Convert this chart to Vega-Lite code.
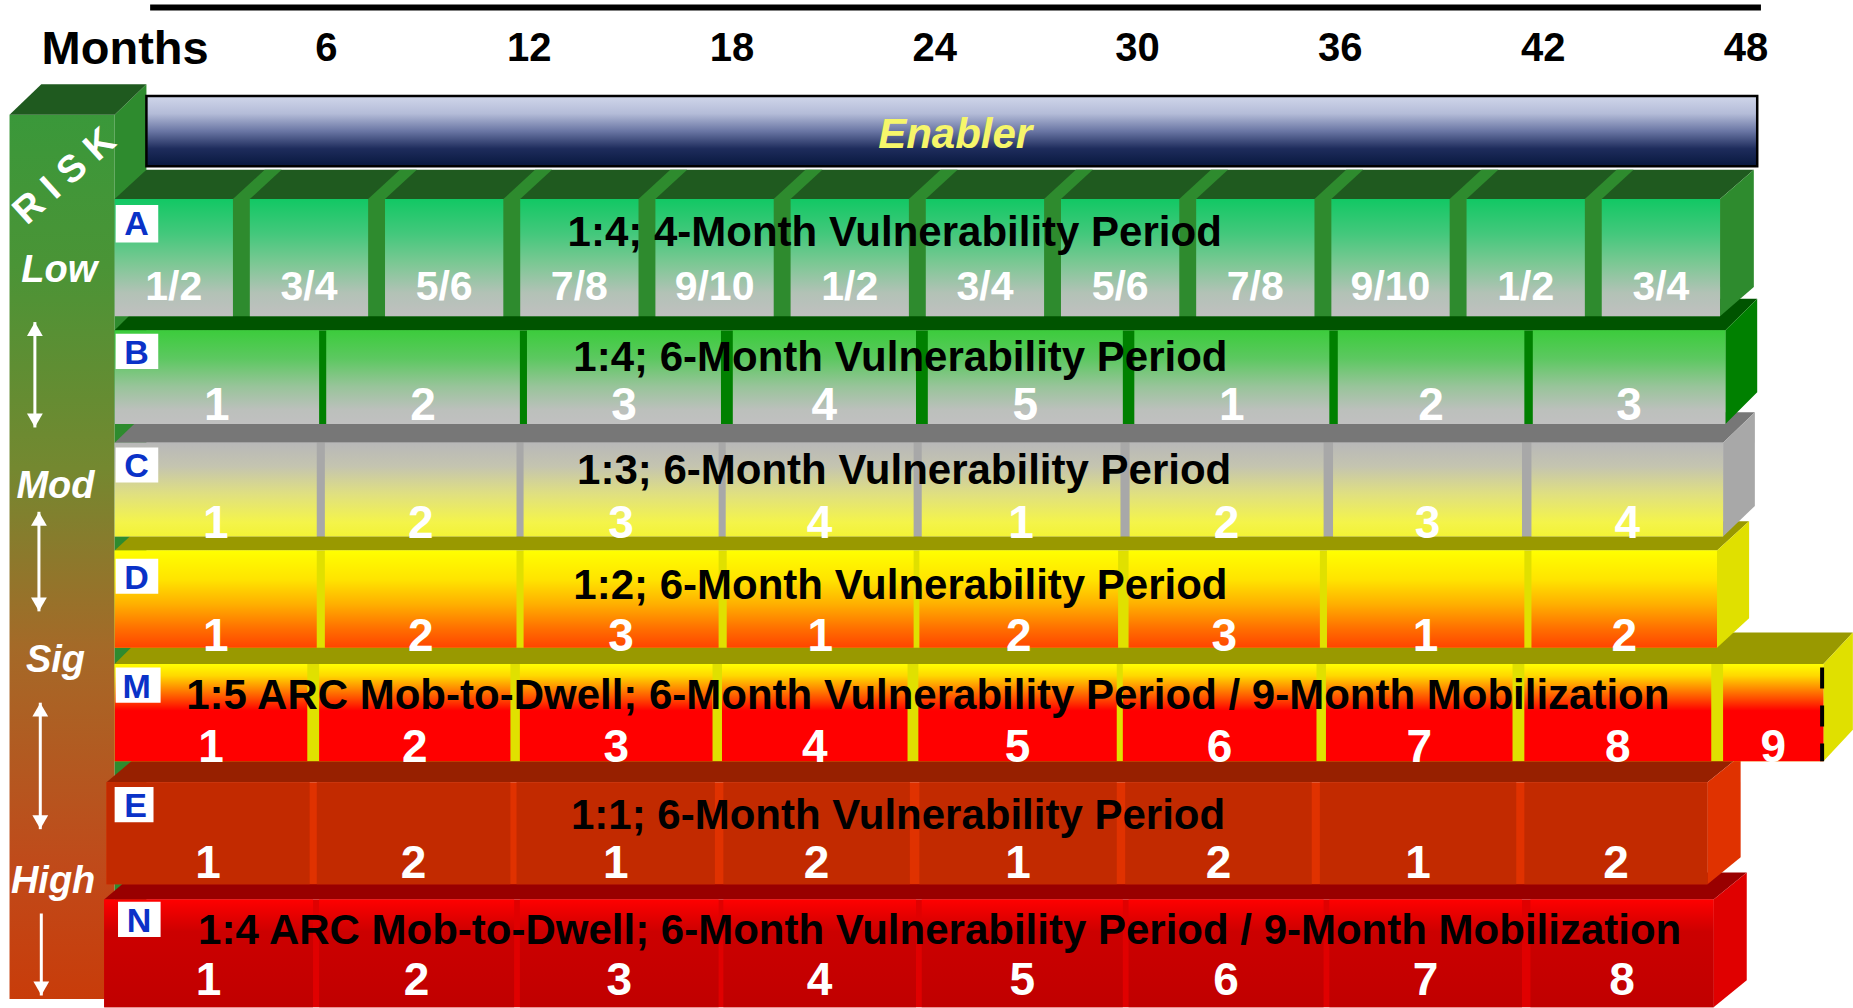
{
"$schema":"https://vega.github.io/schema/vega-lite/v6.json",
"width":1853,"height":1008,
"autosize":{"type":"fit","contains":"padding"},
"padding":0,
"background":"white",
"config":{"view":{"stroke":null},"text":{"font":"Liberation Sans","fontWeight":"bold"}},
"datasets":{
"cells":[
{"row":"A","start":0,"end":3.5,"label":"1/2"},{"row":"A","start":4,"end":7.5,"label":"3/4"},{"row":"A","start":8,"end":11.5,"label":"5/6"},{"row":"A","start":12,"end":15.5,"label":"7/8"},{"row":"A","start":16,"end":19.5,"label":"9/10"},{"row":"A","start":20,"end":23.5,"label":"1/2"},{"row":"A","start":24,"end":27.5,"label":"3/4"},{"row":"A","start":28,"end":31.5,"label":"5/6"},{"row":"A","start":32,"end":35.5,"label":"7/8"},{"row":"A","start":36,"end":39.5,"label":"9/10"},{"row":"A","start":40,"end":43.5,"label":"1/2"},{"row":"A","start":44,"end":47.5,"label":"3/4"},
{"row":"B","start":0,"end":6.05,"label":"1"},{"row":"B","start":6.26,"end":11.99,"label":"2"},{"row":"B","start":12.2,"end":17.94,"label":"3"},{"row":"B","start":18.29,"end":23.71,"label":"4"},{"row":"B","start":24.06,"end":29.83,"label":"5"},{"row":"B","start":30.17,"end":35.94,"label":"1"},{"row":"B","start":36.19,"end":41.71,"label":"2"},{"row":"B","start":41.96,"end":47.66,"label":"3"},
{"row":"C","start":0,"end":5.98,"label":"1"},{"row":"C","start":6.22,"end":11.89,"label":"2"},{"row":"C","start":12.1,"end":17.87,"label":"3"},{"row":"C","start":18.08,"end":23.64,"label":"4"},{"row":"C","start":23.88,"end":29.76,"label":"1"},{"row":"C","start":30.03,"end":35.77,"label":"2"},{"row":"C","start":36.05,"end":41.64,"label":"3"},{"row":"C","start":41.92,"end":47.59,"label":"4"},
{"row":"D","start":0,"end":5.98,"label":"1"},{"row":"D","start":6.22,"end":11.89,"label":"2"},{"row":"D","start":12.1,"end":17.87,"label":"3"},{"row":"D","start":18.11,"end":23.64,"label":"1"},{"row":"D","start":23.81,"end":29.69,"label":"2"},{"row":"D","start":30.0,"end":35.66,"label":"3"},{"row":"D","start":35.87,"end":41.71,"label":"1"},{"row":"D","start":41.92,"end":47.41,"label":"2"},
{"row":"M","start":0,"end":5.7,"label":"1"},{"row":"M","start":6.05,"end":11.71,"label":"2"},{"row":"M","start":11.99,"end":17.69,"label":"3"},{"row":"M","start":17.97,"end":23.46,"label":"4"},{"row":"M","start":23.78,"end":29.65,"label":"5"},{"row":"M","start":29.83,"end":35.56,"label":"6"},{"row":"M","start":35.84,"end":41.36,"label":"7"},{"row":"M","start":41.71,"end":47.24,"label":"8"},{"row":"M","start":47.59,"end":50.56,"label":"9"},
{"row":"E","start":-0.24,"end":5.77,"label":"1"},{"row":"E","start":5.98,"end":11.71,"label":"2"},{"row":"E","start":11.89,"end":17.76,"label":"1"},{"row":"E","start":18.01,"end":23.53,"label":"2"},{"row":"E","start":23.81,"end":29.65,"label":"1"},{"row":"E","start":29.9,"end":35.42,"label":"2"},{"row":"E","start":35.66,"end":41.47,"label":"1"},{"row":"E","start":41.71,"end":47.13,"label":"2"},
{"row":"N","start":-0.31,"end":5.87,"label":"1"},{"row":"N","start":6.05,"end":11.82,"label":"2"},{"row":"N","start":11.99,"end":17.87,"label":"3"},{"row":"N","start":18.01,"end":23.71,"label":"4"},{"row":"N","start":23.88,"end":29.83,"label":"5"},{"row":"N","start":30.0,"end":35.77,"label":"6"},{"row":"N","start":35.94,"end":41.64,"label":"7"},{"row":"N","start":41.89,"end":47.31,"label":"8"}
],
"rows":[
{"row":"A","top":1.70,"bottom":2.70,"labelY":2.46,"title":"1:4; 4-Month Vulnerability Period","titleX":23.08,"titleY":1.99,"boxTop":1.75,"boxBottom":2.07,"boxX0":0.03,"boxX1":1.29},
{"row":"B","top":2.82,"bottom":3.62,"labelY":3.47,"title":"1:4; 6-Month Vulnerability Period","titleX":23.25,"titleY":3.06,"boxTop":2.85,"boxBottom":3.15,"boxX0":0.03,"boxX1":1.29},
{"row":"C","top":3.78,"bottom":4.58,"labelY":4.47,"title":"1:3; 6-Month Vulnerability Period","titleX":23.36,"titleY":4.02,"boxTop":3.82,"boxBottom":4.12,"boxX0":0.03,"boxX1":1.29},
{"row":"D","top":4.70,"bottom":5.53,"labelY":5.44,"title":"1:2; 6-Month Vulnerability Period","titleX":23.25,"titleY":5.00,"boxTop":4.77,"boxBottom":5.07,"boxX0":0.03,"boxX1":1.29},
{"row":"M","top":5.67,"bottom":6.50,"labelY":6.39,"title":"1:5 ARC Mob-to-Dwell; 6-Month Vulnerability Period / 9-Month Mobilization","titleX":24.06,"titleY":5.94,"boxTop":5.70,"boxBottom":6.00,"boxX0":0.03,"boxX1":1.36},
{"row":"E","top":6.68,"bottom":7.55,"labelY":7.38,"title":"1:1; 6-Month Vulnerability Period","titleX":23.18,"titleY":6.97,"boxTop":6.72,"boxBottom":7.02,"boxX0":0.0,"boxX1":1.15},
{"row":"N","top":7.68,"bottom":8.60,"labelY":8.38,"title":"1:4 ARC Mob-to-Dwell; 6-Month Vulnerability Period / 9-Month Mobilization","titleX":24.41,"titleY":7.95,"boxTop":7.70,"boxBottom":8.00,"boxX0":0.1,"boxX1":1.36}
],
"tops":[
{"face":"col-top","tone":"col-top","level":0.72,"left":-2.17,"right":0.94},{"face":"col-top","tone":"col-top","level":0.98,"left":-3.11,"right":0},
{"face":"A-top","tone":"A-top","level":1.45,"left":0.94,"right":48.5},{"face":"A-top","tone":"A-top","level":1.70,"left":0,"right":47.5},
{"face":"A-g1","tone":"A","level":1.45,"left":4.44,"right":4.94},{"face":"A-g1","tone":"A","level":1.70,"left":3.5,"right":4},
{"face":"A-g2","tone":"A","level":1.45,"left":8.44,"right":8.94},{"face":"A-g2","tone":"A","level":1.70,"left":7.5,"right":8},
{"face":"A-g3","tone":"A","level":1.45,"left":12.44,"right":12.94},{"face":"A-g3","tone":"A","level":1.70,"left":11.5,"right":12},
{"face":"A-g4","tone":"A","level":1.45,"left":16.44,"right":16.94},{"face":"A-g4","tone":"A","level":1.70,"left":15.5,"right":16},
{"face":"A-g5","tone":"A","level":1.45,"left":20.44,"right":20.94},{"face":"A-g5","tone":"A","level":1.70,"left":19.5,"right":20},
{"face":"A-g6","tone":"A","level":1.45,"left":24.44,"right":24.94},{"face":"A-g6","tone":"A","level":1.70,"left":23.5,"right":24},
{"face":"A-g7","tone":"A","level":1.45,"left":28.44,"right":28.94},{"face":"A-g7","tone":"A","level":1.70,"left":27.5,"right":28},
{"face":"A-g8","tone":"A","level":1.45,"left":32.44,"right":32.94},{"face":"A-g8","tone":"A","level":1.70,"left":31.5,"right":32},
{"face":"A-g9","tone":"A","level":1.45,"left":36.44,"right":36.94},{"face":"A-g9","tone":"A","level":1.70,"left":35.5,"right":36},
{"face":"A-g10","tone":"A","level":1.45,"left":40.44,"right":40.94},{"face":"A-g10","tone":"A","level":1.70,"left":39.5,"right":40},
{"face":"A-g11","tone":"A","level":1.45,"left":44.44,"right":44.94},{"face":"A-g11","tone":"A","level":1.70,"left":43.5,"right":44},
{"face":"B-top","tone":"B-top","level":2.55,"left":0.94,"right":48.6},{"face":"B-top","tone":"B-top","level":2.82,"left":0,"right":47.66},
{"face":"C-top","tone":"C-top","level":3.52,"left":0.94,"right":48.53},{"face":"C-top","tone":"C-top","level":3.78,"left":0,"right":47.59},
{"face":"D-top","tone":"D-top","level":4.45,"left":0.94,"right":48.36},{"face":"D-top","tone":"D-top","level":4.70,"left":0,"right":47.41},
{"face":"M-top","tone":"M-top","level":5.40,"left":0.94,"right":51.43},{"face":"M-top","tone":"M-top","level":5.67,"left":0,"right":50.56},
{"face":"E-top","tone":"E-top","level":6.45,"left":0.70,"right":48.11},{"face":"E-top","tone":"E-top","level":6.68,"left":-0.24,"right":47.13},
{"face":"N-top","tone":"N-top","level":7.45,"left":0.63,"right":48.29},{"face":"N-top","tone":"N-top","level":7.68,"left":-0.31,"right":47.31}
],
"sides":[
{"face":"col-side","tone":"col-side","month":0,"upper":0.98,"lower":8.53},{"face":"col-side","tone":"col-side","month":0.94,"upper":0.72,"lower":8.27},
{"face":"A-side","tone":"A","month":47.5,"upper":1.70,"lower":2.70},{"face":"A-side","tone":"A","month":48.5,"upper":1.45,"lower":2.45},
{"face":"B-side","tone":"B","month":47.66,"upper":2.82,"lower":3.62},{"face":"B-side","tone":"B","month":48.6,"upper":2.55,"lower":3.35},
{"face":"C-side","tone":"C","month":47.59,"upper":3.78,"lower":4.58},{"face":"C-side","tone":"C","month":48.53,"upper":3.52,"lower":4.32},
{"face":"D-side","tone":"D","month":47.41,"upper":4.70,"lower":5.53},{"face":"D-side","tone":"D","month":48.36,"upper":4.45,"lower":5.28},
{"face":"M-side","tone":"M","month":50.56,"upper":5.67,"lower":6.50},{"face":"M-side","tone":"M","month":51.43,"upper":5.40,"lower":6.23},
{"face":"E-side","tone":"E","month":47.13,"upper":6.68,"lower":7.55},{"face":"E-side","tone":"E","month":48.11,"upper":6.45,"lower":7.32},
{"face":"N-side","tone":"N","month":47.31,"upper":7.68,"lower":8.60},{"face":"N-side","tone":"N","month":48.29,"upper":7.45,"lower":8.37}
],
"months":[{"month":6},{"month":12},{"month":18},{"month":24},{"month":30},{"month":36},{"month":42},{"month":48}],
"risklevels":[{"text":"Low","at":-1.64,"level":2.31},{"text":"Mod","at":-1.75,"level":4.16},{"text":"Sig","at":-1.75,"level":5.64},{"text":"High","at":-1.82,"level":7.53}],
"arrows":[{"at":-2.36,"from":2.75,"to":3.65},{"at":-2.24,"from":4.37,"to":5.22},{"at":-2.2,"from":6.0,"to":7.08},{"at":-2.17,"from":7.80,"to":8.50}],
"heads":[{"at":-2.36,"level":2.81,"dir":"up"},{"at":-2.36,"level":3.59,"dir":"down"},{"at":-2.24,"level":4.43,"dir":"up"},{"at":-2.24,"level":5.16,"dir":"down"},{"at":-2.2,"level":6.06,"dir":"up"},{"at":-2.2,"level":7.02,"dir":"down"},{"at":-2.17,"level":8.44,"dir":"down"}]
},
"layer":[
{"data":{"values":[{}]},
 "mark":{"type":"rect","fill":{"gradient":"linear","x1":0,"y1":0,"x2":0,"y2":1,"stops":[{"offset":0,"color":"#3a983a"},{"offset":0.17,"color":"#4a9436"},{"offset":0.4,"color":"#748830"},{"offset":0.6,"color":"#a46a28"},{"offset":0.85,"color":"#c04a1a"},{"offset":1,"color":"#c83c0a"}]}},
 "encoding":{"x":{"datum":-3.11,"type":"quantitative","scale":{"domain":[-3.392,51.434],"nice":false,"zero":false},"axis":null},"x2":{"datum":0},
  "y":{"datum":0.98,"type":"quantitative","scale":{"domain":[0,8.53],"reverse":true,"nice":false,"zero":false},"axis":null},"y2":{"datum":8.53}}},
{"data":{"name":"sides"},"transform":[{"filter":"datum.face==='col-side'"}],
 "mark":{"type":"area","orient":"vertical"},
 "encoding":{"x":{"field":"month","type":"quantitative","scale":{"domain":[-3.392,51.434],"nice":false,"zero":false},"axis":null},
  "y":{"field":"upper","type":"quantitative","scale":{"domain":[0,8.53],"reverse":true,"nice":false,"zero":false},"axis":null},"y2":{"field":"lower"},
  "color":{"field":"tone","type":"nominal","scale":{"domain":["col-top","col-side","A-top","A","B-top","B","C-top","C","D-top","D","M-top","M","E-top","E","N-top","N"],"range":["#1f5a1f","#2e8b2e","#1f5a1f","#2e8b2e","#005400","#008000","#777777","#a8a8a8","#999900","#e0e000","#999900","#e0e000","#972000","#e03200","#990000","#e00000"]},"legend":null},
  "detail":{"field":"face"}}},
{"data":{"name":"tops"},
 "mark":{"type":"area","orient":"horizontal"},
 "encoding":{"y":{"field":"level","type":"quantitative","scale":{"domain":[0,8.53],"reverse":true,"nice":false,"zero":false},"axis":null},
  "x":{"field":"left","type":"quantitative","scale":{"domain":[-3.392,51.434],"nice":false,"zero":false},"axis":null},"x2":{"field":"right"},
  "color":{"field":"tone","type":"nominal","scale":{"domain":["col-top","col-side","A-top","A","B-top","B","C-top","C","D-top","D","M-top","M","E-top","E","N-top","N"],"range":["#1f5a1f","#2e8b2e","#1f5a1f","#2e8b2e","#005400","#008000","#777777","#a8a8a8","#999900","#e0e000","#999900","#e0e000","#972000","#e03200","#990000","#e00000"]},"legend":null},
  "detail":{"field":"face"}}},
{"data":{"name":"sides"},"transform":[{"filter":"datum.face!=='col-side'"}],
 "mark":{"type":"area","orient":"vertical"},
 "encoding":{"x":{"field":"month","type":"quantitative","scale":{"domain":[-3.392,51.434],"nice":false,"zero":false},"axis":null},
  "y":{"field":"upper","type":"quantitative","scale":{"domain":[0,8.53],"reverse":true,"nice":false,"zero":false},"axis":null},"y2":{"field":"lower"},
  "color":{"field":"tone","type":"nominal","scale":{"domain":["col-top","col-side","A-top","A","B-top","B","C-top","C","D-top","D","M-top","M","E-top","E","N-top","N"],"range":["#1f5a1f","#2e8b2e","#1f5a1f","#2e8b2e","#005400","#008000","#777777","#a8a8a8","#999900","#e0e000","#999900","#e0e000","#972000","#e03200","#990000","#e00000"]},"legend":null},
  "detail":{"field":"face"}}},
{"data":{"name":"cells"},"transform":[{"lookup":"row","from":{"data":{"name":"rows"},"key":"row","fields":["top","bottom"]}}],
 "mark":{"type":"rect"},
 "encoding":{"x":{"aggregate":"min","field":"start","type":"quantitative","scale":{"domain":[-3.392,51.434],"nice":false,"zero":false},"axis":null},"x2":{"aggregate":"max","field":"end"},
  "y":{"field":"top","type":"quantitative","scale":{"domain":[0,8.53],"reverse":true,"nice":false,"zero":false},"axis":null},"y2":{"field":"bottom"},
  "color":{"field":"row","type":"nominal","scale":{"domain":["col-top","col-side","A-top","A","B-top","B","C-top","C","D-top","D","M-top","M","E-top","E","N-top","N"],"range":["#1f5a1f","#2e8b2e","#1f5a1f","#2e8b2e","#005400","#008000","#777777","#a8a8a8","#999900","#e0e000","#999900","#e0e000","#972000","#e03200","#990000","#e00000"]},"legend":null}}},
{"data":{"name":"cells"},"transform":[{"filter":"datum.row==='A'"},{"lookup":"row","from":{"data":{"name":"rows"},"key":"row","fields":["top","bottom"]}}],
 "mark":{"type":"rect","fill":{"gradient":"linear","x1":0,"y1":0,"x2":0,"y2":1,"stops":[{"offset":0,"color":"#12c864"},{"offset":0.3,"color":"#44c87c"},{"offset":0.55,"color":"#7cc894"},{"offset":0.8,"color":"#b2c2b6"},{"offset":1,"color":"#c0c0c0"}]}},
 "encoding":{"x":{"field":"start","type":"quantitative","scale":{"domain":[-3.392,51.434],"nice":false,"zero":false},"axis":null},"x2":{"field":"end"},
  "y":{"field":"top","type":"quantitative","scale":{"domain":[0,8.53],"reverse":true,"nice":false,"zero":false},"axis":null},"y2":{"field":"bottom"}}},
{"data":{"name":"cells"},"transform":[{"filter":"datum.row==='B'"},{"lookup":"row","from":{"data":{"name":"rows"},"key":"row","fields":["top","bottom"]}}],
 "mark":{"type":"rect","fill":{"gradient":"linear","x1":0,"y1":0,"x2":0,"y2":1,"stops":[{"offset":0,"color":"#3ccc3c"},{"offset":0.3,"color":"#5cc860"},{"offset":0.6,"color":"#98c49a"},{"offset":0.85,"color":"#bcc0bc"},{"offset":1,"color":"#c0c0c0"}]}},
 "encoding":{"x":{"field":"start","type":"quantitative","scale":{"domain":[-3.392,51.434],"nice":false,"zero":false},"axis":null},"x2":{"field":"end"},
  "y":{"field":"top","type":"quantitative","scale":{"domain":[0,8.53],"reverse":true,"nice":false,"zero":false},"axis":null},"y2":{"field":"bottom"}}},
{"data":{"name":"cells"},"transform":[{"filter":"datum.row==='C'"},{"lookup":"row","from":{"data":{"name":"rows"},"key":"row","fields":["top","bottom"]}}],
 "mark":{"type":"rect","fill":{"gradient":"linear","x1":0,"y1":0,"x2":0,"y2":1,"stops":[{"offset":0,"color":"#b8b8b8"},{"offset":0.25,"color":"#c4c4b0"},{"offset":0.55,"color":"#e0e080"},{"offset":0.85,"color":"#f4f44a"},{"offset":1,"color":"#f2f236"}]}},
 "encoding":{"x":{"field":"start","type":"quantitative","scale":{"domain":[-3.392,51.434],"nice":false,"zero":false},"axis":null},"x2":{"field":"end"},
  "y":{"field":"top","type":"quantitative","scale":{"domain":[0,8.53],"reverse":true,"nice":false,"zero":false},"axis":null},"y2":{"field":"bottom"}}},
{"data":{"name":"cells"},"transform":[{"filter":"datum.row==='D'"},{"lookup":"row","from":{"data":{"name":"rows"},"key":"row","fields":["top","bottom"]}}],
 "mark":{"type":"rect","fill":{"gradient":"linear","x1":0,"y1":0,"x2":0,"y2":1,"stops":[{"offset":0,"color":"#ffff00"},{"offset":0.3,"color":"#ffe400"},{"offset":0.55,"color":"#ffb000"},{"offset":0.8,"color":"#ff7000"},{"offset":1,"color":"#ff4400"}]}},
 "encoding":{"x":{"field":"start","type":"quantitative","scale":{"domain":[-3.392,51.434],"nice":false,"zero":false},"axis":null},"x2":{"field":"end"},
  "y":{"field":"top","type":"quantitative","scale":{"domain":[0,8.53],"reverse":true,"nice":false,"zero":false},"axis":null},"y2":{"field":"bottom"}}},
{"data":{"name":"cells"},"transform":[{"filter":"datum.row==='M'"},{"lookup":"row","from":{"data":{"name":"rows"},"key":"row","fields":["top","bottom"]}}],
 "mark":{"type":"rect","fill":{"gradient":"linear","x1":0,"y1":0,"x2":0,"y2":1,"stops":[{"offset":0,"color":"#ffff00"},{"offset":0.12,"color":"#ffd800"},{"offset":0.35,"color":"#ff5000"},{"offset":0.48,"color":"#ff0000"},{"offset":1,"color":"#ff0000"}]}},
 "encoding":{"x":{"field":"start","type":"quantitative","scale":{"domain":[-3.392,51.434],"nice":false,"zero":false},"axis":null},"x2":{"field":"end"},
  "y":{"field":"top","type":"quantitative","scale":{"domain":[0,8.53],"reverse":true,"nice":false,"zero":false},"axis":null},"y2":{"field":"bottom"}}},
{"data":{"name":"cells"},"transform":[{"filter":"datum.row==='E'"},{"lookup":"row","from":{"data":{"name":"rows"},"key":"row","fields":["top","bottom"]}}],
 "mark":{"type":"rect","fill":"#c22a00"},
 "encoding":{"x":{"field":"start","type":"quantitative","scale":{"domain":[-3.392,51.434],"nice":false,"zero":false},"axis":null},"x2":{"field":"end"},
  "y":{"field":"top","type":"quantitative","scale":{"domain":[0,8.53],"reverse":true,"nice":false,"zero":false},"axis":null},"y2":{"field":"bottom"}}},
{"data":{"name":"cells"},"transform":[{"filter":"datum.row==='N'"},{"lookup":"row","from":{"data":{"name":"rows"},"key":"row","fields":["top","bottom"]}}],
 "mark":{"type":"rect","fill":{"gradient":"linear","x1":0,"y1":0,"x2":0,"y2":1,"stops":[{"offset":0,"color":"#ff0000"},{"offset":0.3,"color":"#cc0000"},{"offset":1,"color":"#c00000"}]}},
 "encoding":{"x":{"field":"start","type":"quantitative","scale":{"domain":[-3.392,51.434],"nice":false,"zero":false},"axis":null},"x2":{"field":"end"},
  "y":{"field":"top","type":"quantitative","scale":{"domain":[0,8.53],"reverse":true,"nice":false,"zero":false},"axis":null},"y2":{"field":"bottom"}}},
{"data":{"values":[{}]},
 "mark":{"type":"rule","color":"black","strokeWidth":4,"strokeDash":[21,17]},
 "encoding":{"x":{"datum":50.52,"type":"quantitative","scale":{"domain":[-3.392,51.434],"nice":false,"zero":false},"axis":null},
  "y":{"datum":5.70,"type":"quantitative","scale":{"domain":[0,8.53],"reverse":true,"nice":false,"zero":false},"axis":null},"y2":{"datum":6.50}}},
{"data":{"values":[{"label":"Enabler"}]},
 "mark":{"type":"rect","stroke":"black","strokeWidth":2.5,"fill":{"gradient":"linear","x1":0,"y1":0,"x2":0,"y2":1,"stops":[{"offset":0,"color":"#d0d6ea"},{"offset":0.25,"color":"#b4bcd8"},{"offset":0.5,"color":"#6a76a4"},{"offset":0.75,"color":"#1e2c5c"},{"offset":1,"color":"#08183e"}]}},
 "encoding":{"x":{"datum":0.94,"type":"quantitative","scale":{"domain":[-3.392,51.434],"nice":false,"zero":false},"axis":null},"x2":{"datum":48.6},
  "y":{"datum":0.82,"type":"quantitative","scale":{"domain":[0,8.53],"reverse":true,"nice":false,"zero":false},"axis":null},"y2":{"datum":1.42}}},
{"data":{"values":[{"label":"Enabler"}]},
 "mark":{"type":"text","fontSize":42,"fontStyle":"italic","color":"#f6f66a","align":"center","baseline":"middle"},
 "encoding":{"x":{"datum":24.87,"type":"quantitative","scale":{"domain":[-3.392,51.434],"nice":false,"zero":false},"axis":null},
  "y":{"datum":1.15,"type":"quantitative","scale":{"domain":[0,8.53],"reverse":true,"nice":false,"zero":false},"axis":null},"text":{"field":"label"}}},
{"data":{"name":"rows"},
 "mark":{"type":"rect","fill":"white"},
 "encoding":{"x":{"field":"boxX0","type":"quantitative","scale":{"domain":[-3.392,51.434],"nice":false,"zero":false},"axis":null},"x2":{"field":"boxX1"},
  "y":{"field":"boxTop","type":"quantitative","scale":{"domain":[0,8.53],"reverse":true,"nice":false,"zero":false},"axis":null},"y2":{"field":"boxBottom"}}},
{"data":{"name":"rows"},
 "mark":{"type":"text","fontSize":34,"color":"#0a32c8","align":"center","baseline":"middle","dx":21,"dy":20},
 "encoding":{"x":{"field":"boxX0","type":"quantitative","scale":{"domain":[-3.392,51.434],"nice":false,"zero":false},"axis":null},
  "y":{"field":"boxTop","type":"quantitative","scale":{"domain":[0,8.53],"reverse":true,"nice":false,"zero":false},"axis":null},"text":{"field":"row"}}},
{"data":{"name":"rows"},
 "mark":{"type":"text","fontSize":42,"color":"black","align":"center","baseline":"middle"},
 "encoding":{"x":{"field":"titleX","type":"quantitative","scale":{"domain":[-3.392,51.434],"nice":false,"zero":false},"axis":null},
  "y":{"field":"titleY","type":"quantitative","scale":{"domain":[0,8.53],"reverse":true,"nice":false,"zero":false},"axis":null},"text":{"field":"title"}}},
{"data":{"name":"cells"},"transform":[{"filter":"datum.row==='A'"},{"lookup":"row","from":{"data":{"name":"rows"},"key":"row","fields":["labelY"]}},{"fold":["start","end"],"as":["edge","m"]}],
 "mark":{"type":"text","fontSize":41,"color":"white","align":"center","baseline":"middle"},
 "encoding":{"x":{"aggregate":"mean","field":"m","type":"quantitative","scale":{"domain":[-3.392,51.434],"nice":false,"zero":false},"axis":null},
  "y":{"field":"labelY","type":"quantitative","scale":{"domain":[0,8.53],"reverse":true,"nice":false,"zero":false},"axis":null},"text":{"field":"label"},
  "detail":[{"field":"row"},{"field":"start"}]}},
{"data":{"name":"cells"},"transform":[{"filter":"datum.row!=='A'"},{"lookup":"row","from":{"data":{"name":"rows"},"key":"row","fields":["labelY"]}},{"fold":["start","end"],"as":["edge","m"]}],
 "mark":{"type":"text","fontSize":46,"color":"white","align":"center","baseline":"middle"},
 "encoding":{"x":{"aggregate":"mean","field":"m","type":"quantitative","scale":{"domain":[-3.392,51.434],"nice":false,"zero":false},"axis":null},
  "y":{"field":"labelY","type":"quantitative","scale":{"domain":[0,8.53],"reverse":true,"nice":false,"zero":false},"axis":null},"text":{"field":"label"},
  "detail":[{"field":"row"},{"field":"start"}]}},
{"data":{"values":[{}]},
 "mark":{"type":"rule","color":"black","strokeWidth":6},
 "encoding":{"x":{"datum":1.05,"type":"quantitative","scale":{"domain":[-3.392,51.434],"nice":false,"zero":false},"axis":null},"x2":{"datum":48.71},
  "y":{"datum":0.065,"type":"quantitative","scale":{"domain":[0,8.53],"reverse":true,"nice":false,"zero":false},"axis":null}}},
{"data":{"name":"months"},
 "mark":{"type":"text","fontSize":40,"color":"black","align":"center","baseline":"middle","dx":9},
 "encoding":{"x":{"field":"month","type":"quantitative","scale":{"domain":[-3.392,51.434],"nice":false,"zero":false},"axis":null},
  "y":{"datum":0.42,"type":"quantitative","scale":{"domain":[0,8.53],"reverse":true,"nice":false,"zero":false},"axis":null},"text":{"field":"month"}}},
{"data":{"values":[{"label":"Months"}]},
 "mark":{"type":"text","fontSize":47,"color":"black","align":"center","baseline":"middle"},
 "encoding":{"x":{"datum":0.31,"type":"quantitative","scale":{"domain":[-3.392,51.434],"nice":false,"zero":false},"axis":null},
  "y":{"datum":0.43,"type":"quantitative","scale":{"domain":[0,8.53],"reverse":true,"nice":false,"zero":false},"axis":null},"text":{"field":"label"}}},
{"data":{"name":"risklevels"},
 "mark":{"type":"text","fontSize":38,"fontStyle":"italic","color":"white","align":"center","baseline":"middle"},
 "encoding":{"x":{"field":"at","type":"quantitative","scale":{"domain":[-3.392,51.434],"nice":false,"zero":false},"axis":null},
  "y":{"field":"level","type":"quantitative","scale":{"domain":[0,8.53],"reverse":true,"nice":false,"zero":false},"axis":null},"text":{"field":"text"}}},
{"data":{"values":[{"label":"R I S K"}]},
 "mark":{"type":"text","fontSize":38,"color":"white","align":"center","baseline":"middle","angle":318},
 "encoding":{"x":{"datum":-1.47,"type":"quantitative","scale":{"domain":[-3.392,51.434],"nice":false,"zero":false},"axis":null},
  "y":{"datum":1.51,"type":"quantitative","scale":{"domain":[0,8.53],"reverse":true,"nice":false,"zero":false},"axis":null},"text":{"field":"label"}}},
{"data":{"name":"arrows"},
 "mark":{"type":"rule","color":"white","strokeWidth":3},
 "encoding":{"x":{"field":"at","type":"quantitative","scale":{"domain":[-3.392,51.434],"nice":false,"zero":false},"axis":null},
  "y":{"field":"from","type":"quantitative","scale":{"domain":[0,8.53],"reverse":true,"nice":false,"zero":false},"axis":null},"y2":{"field":"to"}}},
{"data":{"name":"heads"},
 "mark":{"type":"point","filled":true,"color":"white","opacity":1,"size":250},
 "encoding":{"x":{"field":"at","type":"quantitative","scale":{"domain":[-3.392,51.434],"nice":false,"zero":false},"axis":null},
  "y":{"field":"level","type":"quantitative","scale":{"domain":[0,8.53],"reverse":true,"nice":false,"zero":false},"axis":null},
  "shape":{"field":"dir","type":"nominal","scale":{"domain":["up","down"],"range":["triangle-up","triangle-down"]},"legend":null}}}
]
}
